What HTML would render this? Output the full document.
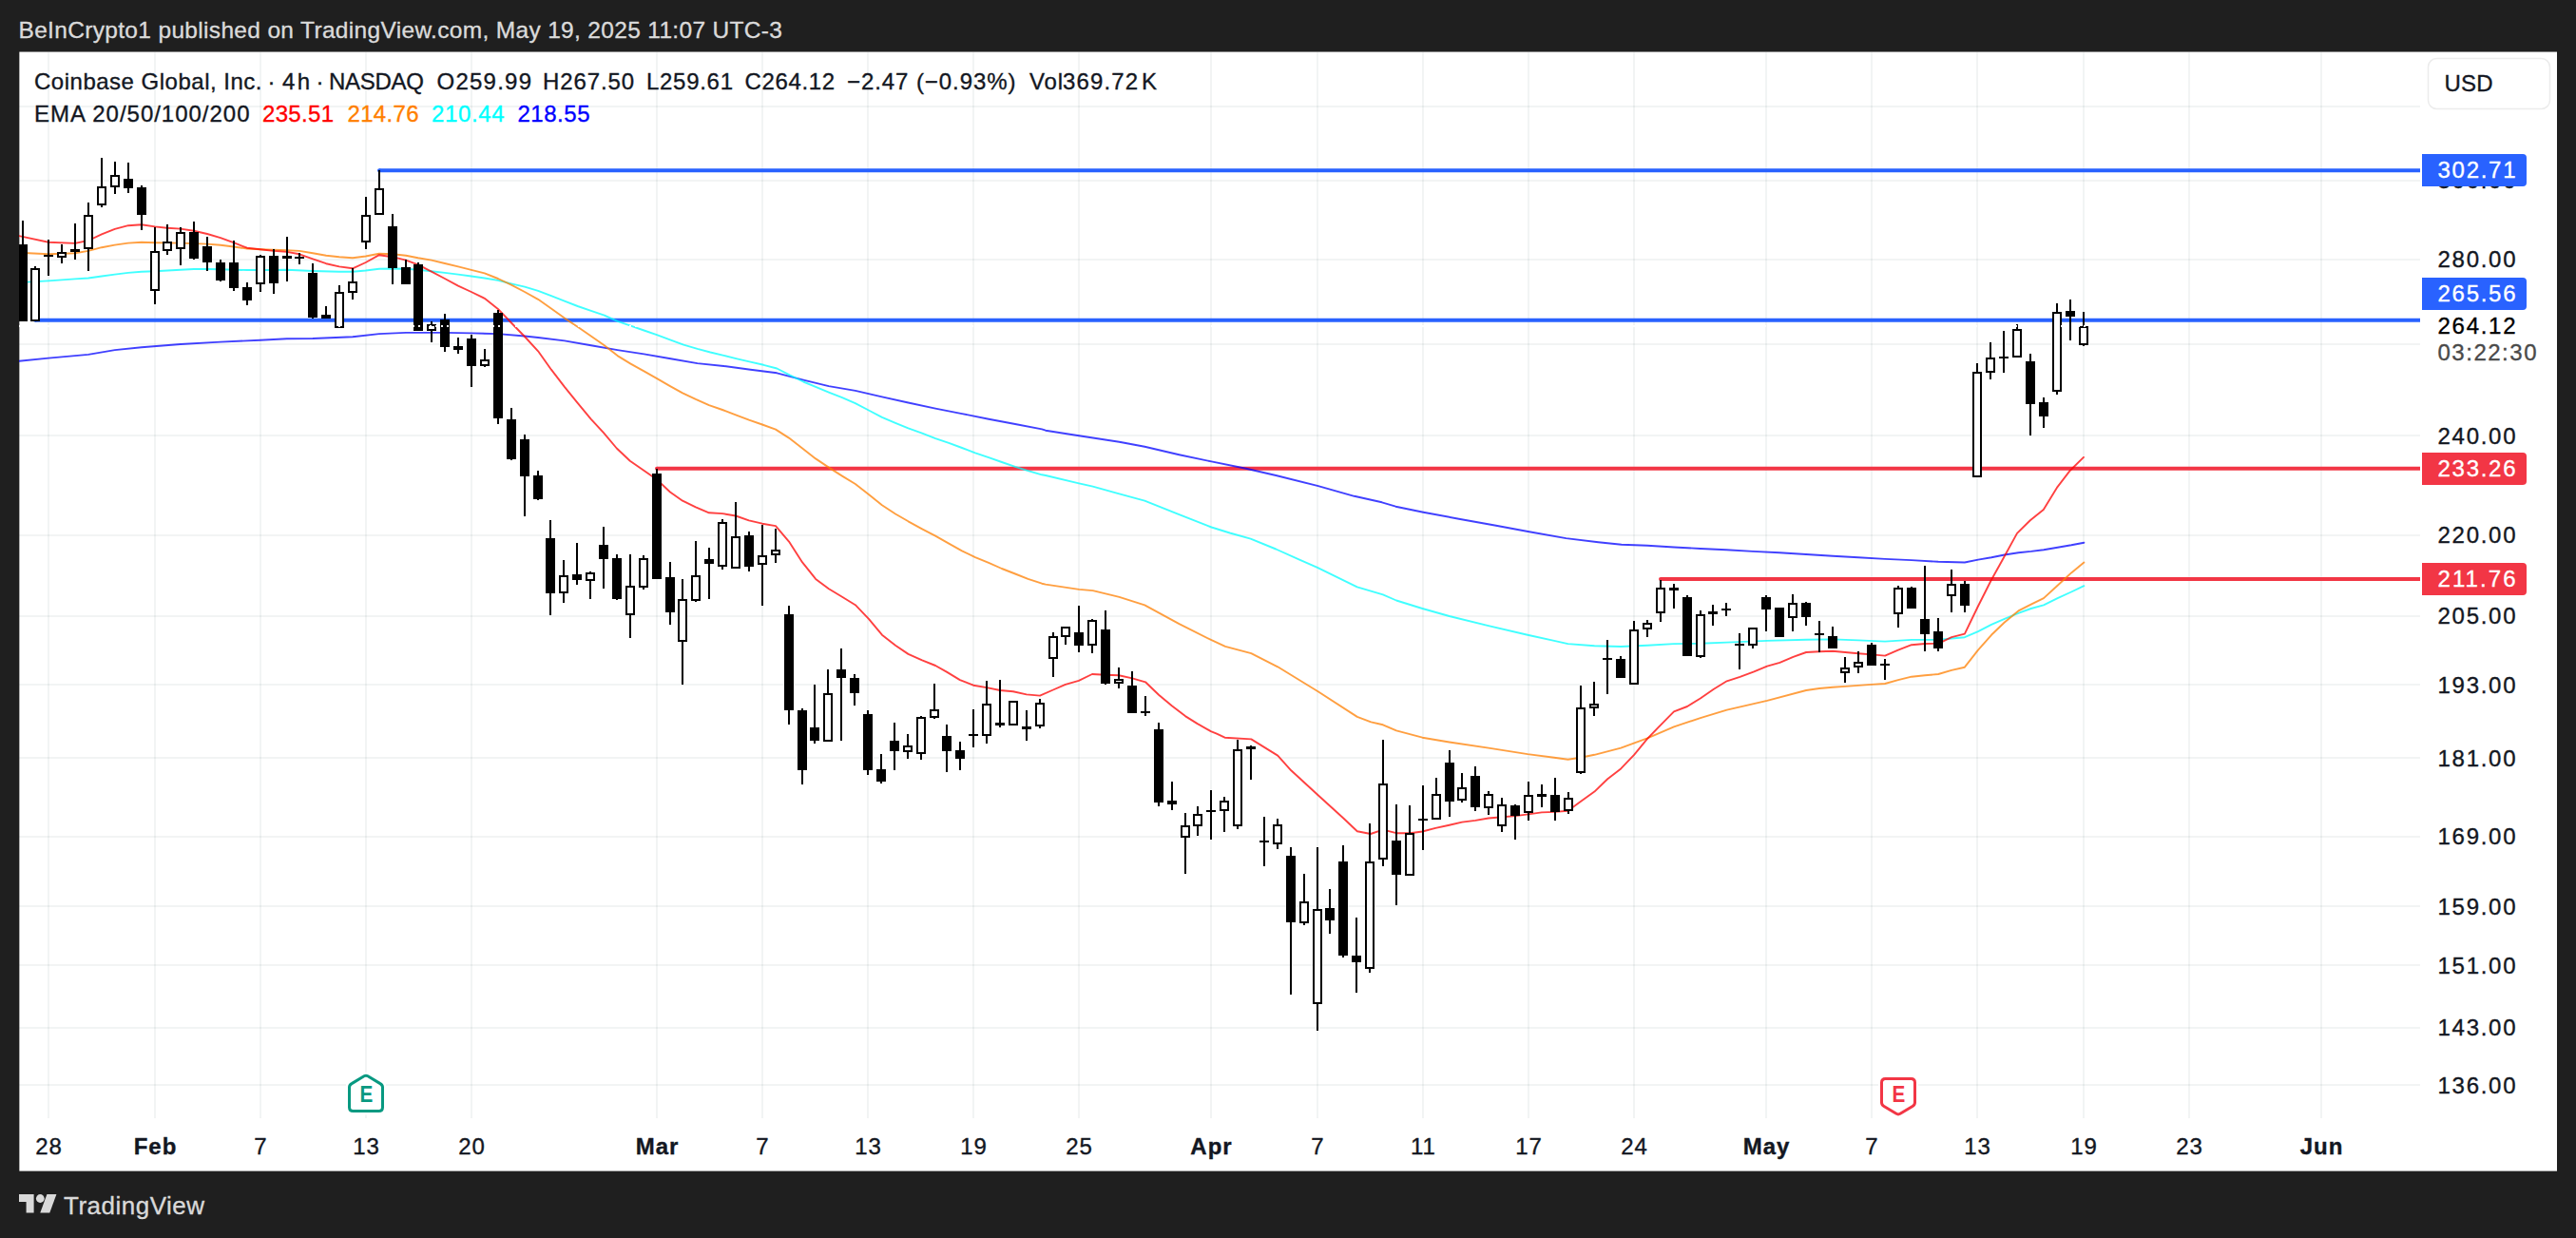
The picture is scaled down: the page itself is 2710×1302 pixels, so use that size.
<!DOCTYPE html>
<html><head><meta charset="utf-8"><title>COIN chart</title>
<style>html,body{margin:0;padding:0;background:#1f1f1f;}body{width:2710px;height:1302px;overflow:hidden;}svg{display:block;}</style>
</head><body>
<svg width="2710" height="1302" viewBox="0 0 2710 1302" font-family="'Liberation Sans', Arial, Helvetica, sans-serif">
<rect x="0" y="0" width="2710" height="1302" fill="#1f1f1f"/>
<rect x="20.35" y="54.55" width="2669.65" height="1177.05" fill="#ffffff"/>
<defs><clipPath id="pane"><rect x="20" y="55" width="2526" height="1121"/></clipPath></defs>
<g stroke="rgba(40,60,60,0.06)" stroke-width="2" shape-rendering="crispEdges">
<line x1="51" y1="55" x2="51" y2="1176"/>
<line x1="163" y1="55" x2="163" y2="1176"/>
<line x1="274" y1="55" x2="274" y2="1176"/>
<line x1="385" y1="55" x2="385" y2="1176"/>
<line x1="496" y1="55" x2="496" y2="1176"/>
<line x1="691" y1="55" x2="691" y2="1176"/>
<line x1="802" y1="55" x2="802" y2="1176"/>
<line x1="913" y1="55" x2="913" y2="1176"/>
<line x1="1024" y1="55" x2="1024" y2="1176"/>
<line x1="1135" y1="55" x2="1135" y2="1176"/>
<line x1="1274" y1="55" x2="1274" y2="1176"/>
<line x1="1386" y1="55" x2="1386" y2="1176"/>
<line x1="1497" y1="55" x2="1497" y2="1176"/>
<line x1="1608" y1="55" x2="1608" y2="1176"/>
<line x1="1719" y1="55" x2="1719" y2="1176"/>
<line x1="1858" y1="55" x2="1858" y2="1176"/>
<line x1="1969" y1="55" x2="1969" y2="1176"/>
<line x1="2080" y1="55" x2="2080" y2="1176"/>
<line x1="2192" y1="55" x2="2192" y2="1176"/>
<line x1="2303" y1="55" x2="2303" y2="1176"/>
<line x1="2442" y1="55" x2="2442" y2="1176"/>
<line x1="20" y1="112" x2="2546" y2="112"/>
<line x1="20" y1="190" x2="2546" y2="190"/>
<line x1="20" y1="273" x2="2546" y2="273"/>
<line x1="20" y1="362" x2="2546" y2="362"/>
<line x1="20" y1="458" x2="2546" y2="458"/>
<line x1="20" y1="563" x2="2546" y2="563"/>
<line x1="20" y1="648" x2="2546" y2="648"/>
<line x1="20" y1="720" x2="2546" y2="720"/>
<line x1="20" y1="797" x2="2546" y2="797"/>
<line x1="20" y1="880" x2="2546" y2="880"/>
<line x1="20" y1="953" x2="2546" y2="953"/>
<line x1="20" y1="1015" x2="2546" y2="1015"/>
<line x1="20" y1="1081" x2="2546" y2="1081"/>
<line x1="20" y1="1141" x2="2546" y2="1141"/>
</g>
<g clip-path="url(#pane)">
<line x1="399" y1="179.3" x2="2546" y2="179.3" stroke="#2962ff" stroke-width="4" stroke-linecap="butt"/>
<circle cx="399" cy="179.3" r="2" fill="#2962ff"/>
<line x1="37" y1="336.8" x2="2546" y2="336.8" stroke="#2962ff" stroke-width="4" stroke-linecap="butt"/>
<circle cx="37" cy="336.8" r="2" fill="#2962ff"/>
<line x1="691" y1="492.7" x2="2546" y2="492.7" stroke="#f23645" stroke-width="4" stroke-linecap="butt"/>
<circle cx="691" cy="492.7" r="2" fill="#f23645"/>
<line x1="1747" y1="609.0" x2="2546" y2="609.0" stroke="#f23645" stroke-width="4" stroke-linecap="butt"/>
<circle cx="1747" cy="609.0" r="2" fill="#f23645"/>
<polyline points="20.0,379.7 51.0,376.6 92.9,372.9 120.8,368.1 148.9,365.2 189.9,362.0 232.0,359.6 273.7,357.7 301.8,356.2 329.1,356.0 371.0,354.3 398.9,351.1 427.0,349.9 467.9,349.9 495.8,350.4 523.9,351.1 552.0,353.5 566.1,355.0 593.9,358.4 621.8,363.2 649.6,368.1 677.5,372.4 705.6,377.3 733.7,382.1 761.4,385.0 789.5,388.7 817.3,392.3 845.2,399.6 871.9,406.1 899.8,410.9 927.9,417.4 955.5,423.5 984.1,429.6 1012.0,435.1 1040.1,440.7 1068.0,446.0 1096.1,451.4 1100.0,452.7 1135.1,458.3 1177.5,464.8 1204.2,469.7 1240.5,478.2 1274.5,485.4 1310.8,492.7 1342.3,500.0 1385.9,510.9 1424.7,521.8 1453.8,528.3 1468.3,532.7 1497.4,538.7 1536.2,546.0 1572.5,552.5 1608.8,559.3 1647.6,566.1 1681.5,570.2 1705.8,572.7 1733.0,573.8 1761.1,575.5 1789.0,577.0 1816.1,578.2 1844.0,579.9 1872.1,581.3 1900.0,583.0 1928.1,584.7 1955.0,586.2 1983.1,587.9 2011.0,589.1 2039.1,590.8 2066.9,591.5 2081.0,588.6 2095.0,586.2 2108.8,583.5 2123.4,581.3 2136.7,579.9 2150.0,578.2 2164.6,575.7 2179.1,573.3 2192.4,570.7" fill="none" stroke="#0000ff" stroke-opacity="0.75" stroke-width="1.9" stroke-linejoin="round" stroke-linecap="round"/>
<polyline points="20.0,297.1 28.5,296.6 51.0,295.4 78.9,293.4 92.9,292.5 107.0,290.5 120.8,288.6 134.9,286.9 148.9,285.7 163.0,285.2 189.9,283.8 203.9,283.0 218.0,283.0 232.0,283.3 245.8,283.8 259.9,284.0 273.7,284.0 287.7,284.0 301.8,283.8 329.1,285.0 356.9,285.7 371.0,285.7 384.8,284.5 398.9,282.8 412.9,282.5 427.0,282.8 439.8,283.8 453.9,285.2 467.9,286.9 482.0,288.6 495.8,290.5 509.8,292.5 523.9,294.9 537.9,298.3 552.0,301.7 566.1,305.8 579.9,311.1 593.9,316.7 607.7,322.0 621.8,326.9 635.8,331.7 649.6,337.8 663.5,342.6 677.5,347.5 691.6,352.3 705.6,357.7 719.2,362.7 733.7,366.9 747.3,370.5 761.4,373.9 775.4,377.3 789.5,380.7 803.3,383.8 817.3,387.5 831.1,394.7 845.2,401.5 858.1,406.8 871.9,412.6 886.0,418.2 899.8,424.2 913.9,431.5 927.9,438.8 942.0,444.8 955.5,450.4 970.1,455.7 984.1,461.1 998.2,465.9 1012.0,471.0 1026.0,476.3 1040.1,481.2 1053.9,486.0 1068.0,490.9 1081.5,495.2 1096.1,499.3 1100.0,500.0 1135.1,508.4 1149.7,511.6 1177.5,519.3 1204.2,526.6 1240.5,541.2 1274.5,554.5 1293.8,560.5 1315.7,566.6 1342.3,577.5 1366.5,588.4 1385.9,596.9 1427.8,617.4 1454.9,625.4 1469.0,631.5 1496.4,640.0 1524.7,648.0 1565.9,658.2 1607.1,667.8 1635.0,673.9 1649.5,677.1 1677.4,679.2 1705.2,680.0 1733.1,678.7 1761.0,677.1 1788.8,676.8 1816.7,675.6 1859.1,673.9 1900.1,672.7 1928.1,672.4 1955.0,673.4 1983.1,674.6 2011.0,672.9 2039.1,672.9 2053.1,671.5 2066.9,670.2 2081.0,664.2 2095.0,656.9 2108.8,650.9 2123.4,644.8 2136.7,640.0 2150.0,636.3 2164.6,629.1 2179.1,622.5 2192.4,616.2" fill="none" stroke="#00ffff" stroke-opacity="0.75" stroke-width="1.9" stroke-linejoin="round" stroke-linecap="round"/>
<polyline points="20.0,265.8 51.0,267.3 78.9,266.3 92.9,263.9 107.0,260.2 120.8,257.6 134.9,255.6 148.9,254.7 163.0,255.2 189.9,255.6 203.9,256.1 218.0,256.6 232.0,257.8 245.8,259.5 259.9,261.5 273.7,262.2 287.7,262.7 301.8,263.2 315.0,263.9 329.1,266.3 343.1,268.7 356.9,270.2 371.0,271.2 384.8,269.5 398.9,266.8 412.9,267.3 427.0,268.7 439.8,271.2 453.9,273.6 467.9,277.0 482.0,280.4 495.8,283.8 509.8,287.4 523.9,293.0 537.9,299.7 552.0,307.0 566.1,314.8 579.9,324.5 593.9,334.6 607.7,343.8 621.8,353.5 635.8,363.2 649.6,374.1 663.5,382.6 677.5,390.4 691.6,398.4 705.0,406.1 718.1,413.3 731.9,419.9 745.9,426.2 760.0,431.0 774.0,436.3 787.9,441.7 801.9,446.5 816.0,451.6 830.0,460.6 844.1,471.5 858.1,482.4 871.9,491.6 886.0,500.6 899.8,509.0 913.9,519.9 927.9,531.3 942.0,540.5 955.5,548.3 970.1,556.3 984.1,563.6 998.2,571.6 1012.0,579.3 1026.0,586.1 1040.1,591.9 1053.9,598.0 1068.0,603.5 1081.5,608.9 1096.1,613.7 1100.0,614.6 1135.1,619.9 1149.7,621.1 1177.5,627.9 1204.2,636.4 1240.5,656.2 1274.5,673.2 1289.0,679.8 1316.3,687.2 1344.2,701.3 1386.6,727.2 1427.8,753.9 1442.3,759.4 1454.9,762.3 1469.0,768.4 1496.4,775.7 1524.7,780.5 1565.9,786.6 1607.1,793.1 1635.0,796.8 1649.5,798.7 1662.8,796.8 1677.4,793.8 1705.2,786.6 1733.1,776.4 1761.0,764.3 1788.8,755.1 1816.7,746.6 1859.1,736.9 1900.1,726.0 1914.0,724.0 1928.1,722.8 1941.2,721.9 1955.0,720.9 1969.0,719.9 1983.1,719.0 1996.9,715.1 2011.0,711.7 2025.0,710.2 2039.1,709.0 2053.1,704.9 2066.9,701.7 2081.0,683.6 2095.0,667.8 2108.8,654.5 2123.4,642.4 2136.7,635.6 2150.0,629.1 2164.6,615.7 2179.1,602.4 2192.4,591.5" fill="none" stroke="#ff7f00" stroke-opacity="0.75" stroke-width="1.9" stroke-linejoin="round" stroke-linecap="round"/>
<polyline points="20.0,248.1 51.0,254.7 78.9,255.9 92.9,253.0 107.0,246.4 120.8,240.9 134.9,237.2 148.9,236.3 163.0,238.4 175.8,239.7 189.9,240.6 203.9,242.8 218.0,246.0 232.0,250.1 245.8,255.2 259.9,260.7 273.7,262.2 287.7,263.9 301.8,264.9 315.0,267.3 329.1,272.4 343.1,277.2 356.9,280.4 371.0,282.3 384.8,276.0 398.9,268.2 412.9,270.2 427.0,273.6 439.8,278.4 453.9,285.7 467.9,293.0 482.0,300.7 495.8,307.0 509.8,313.8 523.9,324.9 537.9,339.5 552.0,354.0 566.1,369.3 579.9,388.7 593.9,406.8 607.7,423.8 621.8,440.8 635.0,455.2 648.8,471.5 662.8,484.8 676.9,494.5 690.9,504.2 705.0,517.5 718.1,526.7 731.9,533.3 745.9,539.3 760.0,540.1 774.0,542.5 787.9,547.3 801.9,550.7 816.0,553.1 830.0,569.6 844.1,591.4 858.1,608.9 871.9,619.3 886.0,627.8 899.8,636.2 913.9,650.8 927.9,667.7 942.0,678.7 955.5,687.9 970.1,694.4 984.1,700.0 995.9,706.6 1009.9,715.1 1024.0,720.7 1038.0,723.1 1052.1,726.0 1065.9,727.2 1079.9,730.4 1094.0,731.6 1108.0,725.5 1120.9,719.9 1134.9,715.8 1149.0,709.0 1163.0,709.8 1177.1,710.2 1191.2,713.4 1205.0,717.3 1219.0,730.8 1233.1,742.5 1246.9,753.1 1259.7,761.1 1273.8,769.1 1280.0,771.6 1288.5,775.7 1316.3,777.4 1344.2,794.6 1358.3,810.3 1386.6,836.2 1413.3,860.5 1427.8,874.3 1441.9,877.0 1454.9,872.6 1469.0,876.2 1483.5,876.2 1496.4,874.5 1510.2,870.9 1524.7,867.7 1538.1,864.6 1552.1,862.9 1565.9,860.5 1580.5,859.3 1594.0,858.1 1607.8,856.4 1621.9,854.4 1635.9,853.9 1649.5,852.7 1662.8,843.0 1677.4,832.6 1691.2,819.3 1705.2,808.4 1719.1,793.8 1733.1,776.9 1747.2,762.3 1761.0,748.3 1775.0,743.0 1788.8,734.5 1802.9,724.8 1816.7,716.3 1830.5,711.9 1844.6,706.6 1859.1,700.6 1872.4,696.9 1886.5,690.9 1900.1,686.0 1914.0,685.3 1928.1,684.8 1941.2,686.0 1955.0,687.2 1969.0,688.4 1983.1,689.6 1996.9,683.6 2011.0,678.2 2025.0,677.0 2039.1,676.8 2053.1,670.2 2066.9,666.6 2081.0,637.5 2095.0,609.7 2106.0,590.0 2122.0,560.9 2135.8,547.3 2149.8,535.9 2163.9,512.9 2177.9,494.7 2192.0,480.9" fill="none" stroke="#ff0000" stroke-opacity="0.75" stroke-width="1.9" stroke-linejoin="round" stroke-linecap="round"/>
<g shape-rendering="crispEdges">
<rect x="23" y="232" width="2" height="106" fill="#000"/>
<rect x="19" y="257" width="10" height="81" fill="#000"/>
<rect x="36" y="280" width="2" height="58" fill="#000"/>
<rect x="32" y="282" width="10" height="56" fill="#000"/>
<rect x="34" y="284" width="6" height="52" fill="#fff"/>
<rect x="50" y="252" width="2" height="38" fill="#000"/>
<rect x="46" y="268" width="10" height="2" fill="#000"/>
<rect x="64" y="257" width="2" height="20" fill="#000"/>
<rect x="60" y="265" width="10" height="6" fill="#000"/>
<rect x="62" y="267" width="6" height="2" fill="#fff"/>
<rect x="78" y="235" width="2" height="38" fill="#000"/>
<rect x="74" y="262" width="10" height="3" fill="#000"/>
<rect x="92" y="213" width="2" height="72" fill="#000"/>
<rect x="88" y="226" width="10" height="36" fill="#000"/>
<rect x="90" y="228" width="6" height="32" fill="#fff"/>
<rect x="106" y="166" width="2" height="52" fill="#000"/>
<rect x="102" y="196" width="10" height="20" fill="#000"/>
<rect x="104" y="198" width="6" height="16" fill="#fff"/>
<rect x="120" y="170" width="2" height="34" fill="#000"/>
<rect x="116" y="184" width="10" height="13" fill="#000"/>
<rect x="118" y="186" width="6" height="9" fill="#fff"/>
<rect x="134" y="171" width="2" height="32" fill="#000"/>
<rect x="130" y="188" width="10" height="10" fill="#000"/>
<rect x="148" y="195" width="2" height="47" fill="#000"/>
<rect x="144" y="197" width="10" height="29" fill="#000"/>
<rect x="162" y="239" width="2" height="81" fill="#000"/>
<rect x="158" y="264" width="10" height="42" fill="#000"/>
<rect x="160" y="266" width="6" height="38" fill="#fff"/>
<rect x="175" y="236" width="2" height="32" fill="#000"/>
<rect x="171" y="254" width="10" height="10" fill="#000"/>
<rect x="173" y="256" width="6" height="6" fill="#fff"/>
<rect x="189" y="239" width="2" height="40" fill="#000"/>
<rect x="185" y="244" width="10" height="18" fill="#000"/>
<rect x="187" y="246" width="6" height="14" fill="#fff"/>
<rect x="203" y="233" width="2" height="40" fill="#000"/>
<rect x="199" y="244" width="10" height="28" fill="#000"/>
<rect x="217" y="249" width="2" height="36" fill="#000"/>
<rect x="213" y="259" width="10" height="17" fill="#000"/>
<rect x="231" y="273" width="2" height="23" fill="#000"/>
<rect x="227" y="276" width="10" height="19" fill="#000"/>
<rect x="245" y="253" width="2" height="53" fill="#000"/>
<rect x="241" y="276" width="10" height="27" fill="#000"/>
<rect x="259" y="297" width="2" height="24" fill="#000"/>
<rect x="255" y="302" width="10" height="14" fill="#000"/>
<rect x="273" y="268" width="2" height="39" fill="#000"/>
<rect x="269" y="269" width="10" height="30" fill="#000"/>
<rect x="271" y="271" width="6" height="26" fill="#fff"/>
<rect x="287" y="262" width="2" height="47" fill="#000"/>
<rect x="283" y="269" width="10" height="29" fill="#000"/>
<rect x="301" y="249" width="2" height="47" fill="#000"/>
<rect x="297" y="269" width="10" height="3" fill="#000"/>
<rect x="314" y="266" width="2" height="12" fill="#000"/>
<rect x="310" y="270" width="10" height="2" fill="#000"/>
<rect x="328" y="277" width="2" height="58" fill="#000"/>
<rect x="324" y="287" width="10" height="47" fill="#000"/>
<rect x="342" y="322" width="2" height="13" fill="#000"/>
<rect x="338" y="331" width="10" height="4" fill="#000"/>
<rect x="356" y="300" width="2" height="45" fill="#000"/>
<rect x="352" y="307" width="10" height="38" fill="#000"/>
<rect x="354" y="309" width="6" height="34" fill="#fff"/>
<rect x="370" y="282" width="2" height="33" fill="#000"/>
<rect x="366" y="296" width="10" height="12" fill="#000"/>
<rect x="368" y="298" width="6" height="8" fill="#fff"/>
<rect x="384" y="207" width="2" height="55" fill="#000"/>
<rect x="380" y="226" width="10" height="29" fill="#000"/>
<rect x="382" y="228" width="6" height="25" fill="#fff"/>
<rect x="398" y="179" width="2" height="47" fill="#000"/>
<rect x="394" y="198" width="10" height="28" fill="#000"/>
<rect x="396" y="200" width="6" height="24" fill="#fff"/>
<rect x="412" y="225" width="2" height="74" fill="#000"/>
<rect x="408" y="238" width="10" height="44" fill="#000"/>
<rect x="426" y="273" width="2" height="26" fill="#000"/>
<rect x="422" y="281" width="10" height="18" fill="#000"/>
<rect x="439" y="276" width="2" height="72" fill="#000"/>
<rect x="435" y="278" width="10" height="70" fill="#000"/>
<rect x="453" y="338" width="2" height="22" fill="#000"/>
<rect x="449" y="341" width="10" height="7" fill="#000"/>
<rect x="451" y="343" width="6" height="3" fill="#fff"/>
<rect x="467" y="330" width="2" height="40" fill="#000"/>
<rect x="463" y="336" width="10" height="29" fill="#000"/>
<rect x="481" y="355" width="2" height="17" fill="#000"/>
<rect x="477" y="364" width="10" height="4" fill="#000"/>
<rect x="495" y="352" width="2" height="55" fill="#000"/>
<rect x="491" y="356" width="10" height="29" fill="#000"/>
<rect x="509" y="367" width="2" height="19" fill="#000"/>
<rect x="505" y="378" width="10" height="7" fill="#000"/>
<rect x="507" y="380" width="6" height="3" fill="#fff"/>
<rect x="523" y="326" width="2" height="120" fill="#000"/>
<rect x="519" y="329" width="10" height="111" fill="#000"/>
<rect x="537" y="429" width="2" height="55" fill="#000"/>
<rect x="533" y="441" width="10" height="42" fill="#000"/>
<rect x="551" y="457" width="2" height="86" fill="#000"/>
<rect x="547" y="462" width="10" height="39" fill="#000"/>
<rect x="565" y="495" width="2" height="31" fill="#000"/>
<rect x="561" y="500" width="10" height="25" fill="#000"/>
<rect x="578" y="547" width="2" height="100" fill="#000"/>
<rect x="574" y="566" width="10" height="58" fill="#000"/>
<rect x="592" y="589" width="2" height="45" fill="#000"/>
<rect x="588" y="605" width="10" height="19" fill="#000"/>
<rect x="590" y="607" width="6" height="15" fill="#fff"/>
<rect x="606" y="571" width="2" height="44" fill="#000"/>
<rect x="602" y="604" width="10" height="6" fill="#000"/>
<rect x="620" y="601" width="2" height="29" fill="#000"/>
<rect x="616" y="602" width="10" height="9" fill="#000"/>
<rect x="618" y="604" width="6" height="5" fill="#fff"/>
<rect x="634" y="554" width="2" height="65" fill="#000"/>
<rect x="630" y="573" width="10" height="15" fill="#000"/>
<rect x="648" y="583" width="2" height="48" fill="#000"/>
<rect x="644" y="587" width="10" height="43" fill="#000"/>
<rect x="662" y="583" width="2" height="88" fill="#000"/>
<rect x="658" y="616" width="10" height="31" fill="#000"/>
<rect x="660" y="618" width="6" height="27" fill="#fff"/>
<rect x="676" y="584" width="2" height="36" fill="#000"/>
<rect x="672" y="587" width="10" height="31" fill="#000"/>
<rect x="674" y="589" width="6" height="27" fill="#fff"/>
<rect x="690" y="493" width="2" height="116" fill="#000"/>
<rect x="686" y="498" width="10" height="111" fill="#000"/>
<rect x="704" y="591" width="2" height="66" fill="#000"/>
<rect x="700" y="607" width="10" height="37" fill="#000"/>
<rect x="717" y="609" width="2" height="111" fill="#000"/>
<rect x="713" y="630" width="10" height="45" fill="#000"/>
<rect x="715" y="632" width="6" height="41" fill="#fff"/>
<rect x="731" y="569" width="2" height="64" fill="#000"/>
<rect x="727" y="605" width="10" height="27" fill="#000"/>
<rect x="729" y="607" width="6" height="23" fill="#fff"/>
<rect x="745" y="576" width="2" height="54" fill="#000"/>
<rect x="741" y="588" width="10" height="5" fill="#000"/>
<rect x="759" y="546" width="2" height="53" fill="#000"/>
<rect x="755" y="549" width="10" height="47" fill="#000"/>
<rect x="757" y="551" width="6" height="43" fill="#fff"/>
<rect x="773" y="528" width="2" height="70" fill="#000"/>
<rect x="769" y="564" width="10" height="34" fill="#000"/>
<rect x="771" y="566" width="6" height="30" fill="#fff"/>
<rect x="787" y="559" width="2" height="42" fill="#000"/>
<rect x="783" y="563" width="10" height="33" fill="#000"/>
<rect x="801" y="552" width="2" height="85" fill="#000"/>
<rect x="797" y="584" width="10" height="10" fill="#000"/>
<rect x="799" y="586" width="6" height="6" fill="#fff"/>
<rect x="815" y="556" width="2" height="36" fill="#000"/>
<rect x="811" y="578" width="10" height="6" fill="#000"/>
<rect x="813" y="580" width="6" height="2" fill="#fff"/>
<rect x="829" y="637" width="2" height="125" fill="#000"/>
<rect x="825" y="646" width="10" height="101" fill="#000"/>
<rect x="843" y="745" width="2" height="80" fill="#000"/>
<rect x="839" y="747" width="10" height="63" fill="#000"/>
<rect x="856" y="720" width="2" height="62" fill="#000"/>
<rect x="852" y="765" width="10" height="14" fill="#000"/>
<rect x="870" y="704" width="2" height="76" fill="#000"/>
<rect x="866" y="729" width="10" height="51" fill="#000"/>
<rect x="868" y="731" width="6" height="47" fill="#fff"/>
<rect x="884" y="682" width="2" height="97" fill="#000"/>
<rect x="880" y="704" width="10" height="9" fill="#000"/>
<rect x="898" y="709" width="2" height="33" fill="#000"/>
<rect x="894" y="713" width="10" height="16" fill="#000"/>
<rect x="912" y="747" width="2" height="68" fill="#000"/>
<rect x="908" y="751" width="10" height="59" fill="#000"/>
<rect x="926" y="793" width="2" height="31" fill="#000"/>
<rect x="922" y="809" width="10" height="13" fill="#000"/>
<rect x="940" y="760" width="2" height="50" fill="#000"/>
<rect x="936" y="779" width="10" height="11" fill="#000"/>
<rect x="954" y="772" width="2" height="26" fill="#000"/>
<rect x="950" y="784" width="10" height="7" fill="#000"/>
<rect x="952" y="786" width="6" height="3" fill="#fff"/>
<rect x="968" y="753" width="2" height="46" fill="#000"/>
<rect x="964" y="754" width="10" height="39" fill="#000"/>
<rect x="966" y="756" width="6" height="35" fill="#fff"/>
<rect x="982" y="719" width="2" height="37" fill="#000"/>
<rect x="978" y="746" width="10" height="9" fill="#000"/>
<rect x="980" y="748" width="6" height="5" fill="#fff"/>
<rect x="995" y="762" width="2" height="50" fill="#000"/>
<rect x="991" y="774" width="10" height="16" fill="#000"/>
<rect x="1009" y="780" width="2" height="30" fill="#000"/>
<rect x="1005" y="789" width="10" height="9" fill="#000"/>
<rect x="1023" y="746" width="2" height="40" fill="#000"/>
<rect x="1019" y="772" width="10" height="2" fill="#000"/>
<rect x="1037" y="716" width="2" height="66" fill="#000"/>
<rect x="1033" y="740" width="10" height="34" fill="#000"/>
<rect x="1035" y="742" width="6" height="30" fill="#fff"/>
<rect x="1051" y="715" width="2" height="50" fill="#000"/>
<rect x="1047" y="760" width="10" height="3" fill="#000"/>
<rect x="1065" y="737" width="2" height="26" fill="#000"/>
<rect x="1061" y="737" width="10" height="26" fill="#000"/>
<rect x="1063" y="739" width="6" height="22" fill="#fff"/>
<rect x="1079" y="747" width="2" height="32" fill="#000"/>
<rect x="1075" y="764" width="10" height="3" fill="#000"/>
<rect x="1093" y="735" width="2" height="31" fill="#000"/>
<rect x="1089" y="739" width="10" height="25" fill="#000"/>
<rect x="1091" y="741" width="6" height="21" fill="#fff"/>
<rect x="1107" y="665" width="2" height="47" fill="#000"/>
<rect x="1103" y="669" width="10" height="24" fill="#000"/>
<rect x="1105" y="671" width="6" height="20" fill="#fff"/>
<rect x="1120" y="659" width="2" height="19" fill="#000"/>
<rect x="1116" y="659" width="10" height="11" fill="#000"/>
<rect x="1118" y="661" width="6" height="7" fill="#fff"/>
<rect x="1134" y="637" width="2" height="49" fill="#000"/>
<rect x="1130" y="665" width="10" height="14" fill="#000"/>
<rect x="1148" y="651" width="2" height="36" fill="#000"/>
<rect x="1144" y="652" width="10" height="27" fill="#000"/>
<rect x="1146" y="654" width="6" height="23" fill="#fff"/>
<rect x="1162" y="642" width="2" height="78" fill="#000"/>
<rect x="1158" y="662" width="10" height="57" fill="#000"/>
<rect x="1176" y="702" width="2" height="22" fill="#000"/>
<rect x="1172" y="714" width="10" height="5" fill="#000"/>
<rect x="1174" y="716" width="6" height="1" fill="#fff"/>
<rect x="1190" y="706" width="2" height="44" fill="#000"/>
<rect x="1186" y="721" width="10" height="29" fill="#000"/>
<rect x="1204" y="732" width="2" height="21" fill="#000"/>
<rect x="1200" y="748" width="10" height="2" fill="#000"/>
<rect x="1218" y="760" width="2" height="88" fill="#000"/>
<rect x="1214" y="767" width="10" height="77" fill="#000"/>
<rect x="1232" y="822" width="2" height="30" fill="#000"/>
<rect x="1228" y="842" width="10" height="4" fill="#000"/>
<rect x="1246" y="855" width="2" height="64" fill="#000"/>
<rect x="1242" y="868" width="10" height="13" fill="#000"/>
<rect x="1244" y="870" width="6" height="9" fill="#fff"/>
<rect x="1259" y="848" width="2" height="31" fill="#000"/>
<rect x="1255" y="856" width="10" height="13" fill="#000"/>
<rect x="1257" y="858" width="6" height="9" fill="#fff"/>
<rect x="1273" y="831" width="2" height="52" fill="#000"/>
<rect x="1269" y="852" width="10" height="2" fill="#000"/>
<rect x="1287" y="838" width="2" height="37" fill="#000"/>
<rect x="1283" y="842" width="10" height="11" fill="#000"/>
<rect x="1285" y="844" width="6" height="7" fill="#fff"/>
<rect x="1301" y="778" width="2" height="94" fill="#000"/>
<rect x="1297" y="788" width="10" height="81" fill="#000"/>
<rect x="1299" y="790" width="6" height="77" fill="#fff"/>
<rect x="1315" y="784" width="2" height="36" fill="#000"/>
<rect x="1311" y="785" width="10" height="3" fill="#000"/>
<rect x="1329" y="859" width="2" height="52" fill="#000"/>
<rect x="1325" y="884" width="10" height="2" fill="#000"/>
<rect x="1343" y="861" width="2" height="32" fill="#000"/>
<rect x="1339" y="867" width="10" height="21" fill="#000"/>
<rect x="1341" y="869" width="6" height="17" fill="#fff"/>
<rect x="1357" y="891" width="2" height="155" fill="#000"/>
<rect x="1353" y="900" width="10" height="70" fill="#000"/>
<rect x="1371" y="919" width="2" height="54" fill="#000"/>
<rect x="1367" y="948" width="10" height="23" fill="#000"/>
<rect x="1369" y="950" width="6" height="19" fill="#fff"/>
<rect x="1385" y="891" width="2" height="193" fill="#000"/>
<rect x="1381" y="956" width="10" height="100" fill="#000"/>
<rect x="1383" y="958" width="6" height="96" fill="#fff"/>
<rect x="1398" y="935" width="2" height="47" fill="#000"/>
<rect x="1394" y="955" width="10" height="13" fill="#000"/>
<rect x="1412" y="889" width="2" height="118" fill="#000"/>
<rect x="1408" y="906" width="10" height="99" fill="#000"/>
<rect x="1426" y="965" width="2" height="79" fill="#000"/>
<rect x="1422" y="1005" width="10" height="7" fill="#000"/>
<rect x="1440" y="866" width="2" height="157" fill="#000"/>
<rect x="1436" y="906" width="10" height="113" fill="#000"/>
<rect x="1438" y="908" width="6" height="109" fill="#fff"/>
<rect x="1454" y="778" width="2" height="133" fill="#000"/>
<rect x="1450" y="824" width="10" height="80" fill="#000"/>
<rect x="1452" y="826" width="6" height="76" fill="#fff"/>
<rect x="1468" y="846" width="2" height="106" fill="#000"/>
<rect x="1464" y="884" width="10" height="36" fill="#000"/>
<rect x="1482" y="847" width="2" height="74" fill="#000"/>
<rect x="1478" y="876" width="10" height="45" fill="#000"/>
<rect x="1480" y="878" width="6" height="41" fill="#fff"/>
<rect x="1496" y="826" width="2" height="68" fill="#000"/>
<rect x="1492" y="861" width="10" height="2" fill="#000"/>
<rect x="1510" y="818" width="2" height="44" fill="#000"/>
<rect x="1506" y="835" width="10" height="27" fill="#000"/>
<rect x="1508" y="837" width="6" height="23" fill="#fff"/>
<rect x="1524" y="789" width="2" height="70" fill="#000"/>
<rect x="1520" y="802" width="10" height="41" fill="#000"/>
<rect x="1537" y="813" width="2" height="31" fill="#000"/>
<rect x="1533" y="828" width="10" height="14" fill="#000"/>
<rect x="1535" y="830" width="6" height="10" fill="#fff"/>
<rect x="1551" y="806" width="2" height="47" fill="#000"/>
<rect x="1547" y="816" width="10" height="33" fill="#000"/>
<rect x="1565" y="832" width="2" height="25" fill="#000"/>
<rect x="1561" y="835" width="10" height="15" fill="#000"/>
<rect x="1563" y="837" width="6" height="11" fill="#fff"/>
<rect x="1579" y="839" width="2" height="36" fill="#000"/>
<rect x="1575" y="846" width="10" height="23" fill="#000"/>
<rect x="1577" y="848" width="6" height="19" fill="#fff"/>
<rect x="1593" y="846" width="2" height="37" fill="#000"/>
<rect x="1589" y="847" width="10" height="11" fill="#000"/>
<rect x="1607" y="822" width="2" height="41" fill="#000"/>
<rect x="1603" y="836" width="10" height="19" fill="#000"/>
<rect x="1605" y="838" width="6" height="15" fill="#fff"/>
<rect x="1621" y="825" width="2" height="24" fill="#000"/>
<rect x="1617" y="835" width="10" height="3" fill="#000"/>
<rect x="1635" y="818" width="2" height="45" fill="#000"/>
<rect x="1631" y="836" width="10" height="18" fill="#000"/>
<rect x="1649" y="833" width="2" height="23" fill="#000"/>
<rect x="1645" y="839" width="10" height="14" fill="#000"/>
<rect x="1647" y="841" width="6" height="10" fill="#fff"/>
<rect x="1662" y="721" width="2" height="93" fill="#000"/>
<rect x="1658" y="744" width="10" height="69" fill="#000"/>
<rect x="1660" y="746" width="6" height="65" fill="#fff"/>
<rect x="1676" y="717" width="2" height="36" fill="#000"/>
<rect x="1672" y="740" width="10" height="5" fill="#000"/>
<rect x="1674" y="742" width="6" height="1" fill="#fff"/>
<rect x="1690" y="673" width="2" height="57" fill="#000"/>
<rect x="1686" y="692" width="10" height="2" fill="#000"/>
<rect x="1704" y="690" width="2" height="23" fill="#000"/>
<rect x="1700" y="693" width="10" height="20" fill="#000"/>
<rect x="1718" y="653" width="2" height="67" fill="#000"/>
<rect x="1714" y="662" width="10" height="58" fill="#000"/>
<rect x="1716" y="664" width="6" height="54" fill="#fff"/>
<rect x="1732" y="652" width="2" height="18" fill="#000"/>
<rect x="1728" y="655" width="10" height="7" fill="#000"/>
<rect x="1730" y="657" width="6" height="3" fill="#fff"/>
<rect x="1746" y="610" width="2" height="44" fill="#000"/>
<rect x="1742" y="618" width="10" height="27" fill="#000"/>
<rect x="1744" y="620" width="6" height="23" fill="#fff"/>
<rect x="1760" y="614" width="2" height="26" fill="#000"/>
<rect x="1756" y="618" width="10" height="3" fill="#000"/>
<rect x="1774" y="626" width="2" height="64" fill="#000"/>
<rect x="1770" y="628" width="10" height="62" fill="#000"/>
<rect x="1788" y="642" width="2" height="50" fill="#000"/>
<rect x="1784" y="646" width="10" height="45" fill="#000"/>
<rect x="1786" y="648" width="6" height="41" fill="#fff"/>
<rect x="1801" y="636" width="2" height="22" fill="#000"/>
<rect x="1797" y="643" width="10" height="3" fill="#000"/>
<rect x="1815" y="634" width="2" height="14" fill="#000"/>
<rect x="1811" y="640" width="10" height="2" fill="#000"/>
<rect x="1829" y="666" width="2" height="38" fill="#000"/>
<rect x="1825" y="677" width="10" height="2" fill="#000"/>
<rect x="1843" y="660" width="2" height="22" fill="#000"/>
<rect x="1839" y="660" width="10" height="19" fill="#000"/>
<rect x="1841" y="662" width="6" height="15" fill="#fff"/>
<rect x="1857" y="626" width="2" height="38" fill="#000"/>
<rect x="1853" y="628" width="10" height="13" fill="#000"/>
<rect x="1871" y="639" width="2" height="31" fill="#000"/>
<rect x="1867" y="639" width="10" height="31" fill="#000"/>
<rect x="1885" y="625" width="2" height="39" fill="#000"/>
<rect x="1881" y="634" width="10" height="16" fill="#000"/>
<rect x="1883" y="636" width="6" height="12" fill="#fff"/>
<rect x="1899" y="633" width="2" height="25" fill="#000"/>
<rect x="1895" y="634" width="10" height="15" fill="#000"/>
<rect x="1913" y="653" width="2" height="33" fill="#000"/>
<rect x="1909" y="666" width="10" height="2" fill="#000"/>
<rect x="1927" y="659" width="2" height="23" fill="#000"/>
<rect x="1923" y="669" width="10" height="13" fill="#000"/>
<rect x="1940" y="691" width="2" height="27" fill="#000"/>
<rect x="1936" y="702" width="10" height="6" fill="#000"/>
<rect x="1938" y="704" width="6" height="2" fill="#fff"/>
<rect x="1954" y="685" width="2" height="23" fill="#000"/>
<rect x="1950" y="696" width="10" height="6" fill="#000"/>
<rect x="1952" y="698" width="6" height="2" fill="#fff"/>
<rect x="1968" y="676" width="2" height="24" fill="#000"/>
<rect x="1964" y="678" width="10" height="22" fill="#000"/>
<rect x="1982" y="693" width="2" height="22" fill="#000"/>
<rect x="1978" y="698" width="10" height="2" fill="#000"/>
<rect x="1996" y="616" width="2" height="44" fill="#000"/>
<rect x="1992" y="618" width="10" height="28" fill="#000"/>
<rect x="1994" y="620" width="6" height="24" fill="#fff"/>
<rect x="2010" y="617" width="2" height="23" fill="#000"/>
<rect x="2006" y="618" width="10" height="22" fill="#000"/>
<rect x="2024" y="595" width="2" height="90" fill="#000"/>
<rect x="2020" y="651" width="10" height="16" fill="#000"/>
<rect x="2038" y="650" width="2" height="35" fill="#000"/>
<rect x="2034" y="664" width="10" height="18" fill="#000"/>
<rect x="2052" y="599" width="2" height="45" fill="#000"/>
<rect x="2048" y="614" width="10" height="13" fill="#000"/>
<rect x="2050" y="616" width="6" height="9" fill="#fff"/>
<rect x="2066" y="611" width="2" height="33" fill="#000"/>
<rect x="2062" y="614" width="10" height="23" fill="#000"/>
<rect x="2079" y="382" width="2" height="120" fill="#000"/>
<rect x="2075" y="391" width="10" height="111" fill="#000"/>
<rect x="2077" y="393" width="6" height="107" fill="#fff"/>
<rect x="2093" y="360" width="2" height="39" fill="#000"/>
<rect x="2089" y="376" width="10" height="16" fill="#000"/>
<rect x="2091" y="378" width="6" height="12" fill="#fff"/>
<rect x="2107" y="348" width="2" height="44" fill="#000"/>
<rect x="2103" y="375" width="10" height="2" fill="#000"/>
<rect x="2121" y="341" width="2" height="35" fill="#000"/>
<rect x="2117" y="346" width="10" height="30" fill="#000"/>
<rect x="2119" y="348" width="6" height="26" fill="#fff"/>
<rect x="2135" y="372" width="2" height="86" fill="#000"/>
<rect x="2131" y="380" width="10" height="45" fill="#000"/>
<rect x="2149" y="418" width="2" height="32" fill="#000"/>
<rect x="2145" y="423" width="10" height="15" fill="#000"/>
<rect x="2163" y="319" width="2" height="96" fill="#000"/>
<rect x="2159" y="328" width="10" height="84" fill="#000"/>
<rect x="2161" y="330" width="6" height="80" fill="#fff"/>
<rect x="2177" y="315" width="2" height="43" fill="#000"/>
<rect x="2173" y="327" width="10" height="6" fill="#000"/>
<rect x="2191" y="328" width="2" height="36" fill="#000"/>
<rect x="2187" y="343" width="10" height="20" fill="#000"/>
<rect x="2189" y="345" width="6" height="16" fill="#fff"/>
</g>
<line x1="20" y1="343" x2="2546" y2="343" stroke="#fff" stroke-width="2" stroke-dasharray="2 4" shape-rendering="crispEdges"/>
</g>
<text x="19.5" y="40" font-size="24.5" fill="#dadada" stroke="#dadada" stroke-width="0.35" textLength="803.5" lengthAdjust="spacing" >BeInCrypto1 published on TradingView.com, May 19, 2025 11:07 UTC-3</text>
<text x="36" y="93.8" font-size="24" fill="#131722" stroke="#131722" stroke-width="0.35" textLength="239.5" lengthAdjust="spacing" >Coinbase Global, Inc.</text>
<text x="281.5" y="93.8" font-size="24" fill="#131722" stroke="#131722" stroke-width="0.35" >·</text>
<text x="297" y="93.8" font-size="24" fill="#131722" stroke="#131722" stroke-width="0.35" textLength="29" lengthAdjust="spacing" >4h</text>
<text x="332.5" y="93.8" font-size="24" fill="#131722" stroke="#131722" stroke-width="0.35" >·</text>
<text x="346" y="93.8" font-size="24" fill="#131722" stroke="#131722" stroke-width="0.35" textLength="100" lengthAdjust="spacing" >NASDAQ</text>
<text x="459.5" y="93.8" font-size="24" fill="#131722" stroke="#131722" stroke-width="0.35" textLength="99.5" lengthAdjust="spacing" >O259.99</text>
<text x="571" y="93.8" font-size="24" fill="#131722" stroke="#131722" stroke-width="0.35" textLength="96" lengthAdjust="spacing" >H267.50</text>
<text x="680" y="93.8" font-size="24" fill="#131722" stroke="#131722" stroke-width="0.35" textLength="91" lengthAdjust="spacing" >L259.61</text>
<text x="783.5" y="93.8" font-size="24" fill="#131722" stroke="#131722" stroke-width="0.35" textLength="94.5" lengthAdjust="spacing" >C264.12</text>
<text x="891" y="93.8" font-size="24" fill="#131722" stroke="#131722" stroke-width="0.35" textLength="177.5" lengthAdjust="spacing" >−2.47 (−0.93%)</text>
<text x="1083" y="93.8" font-size="24" fill="#131722" stroke="#131722" stroke-width="0.35" textLength="35" lengthAdjust="spacing" >Vol</text>
<text x="1118" y="93.8" font-size="24" fill="#131722" stroke="#131722" stroke-width="0.35" textLength="79" lengthAdjust="spacing" >369.72</text>
<text x="1201" y="93.8" font-size="24" fill="#131722" stroke="#131722" stroke-width="0.35" >K</text>
<text x="36" y="127.8" font-size="24" fill="#131722" stroke="#131722" stroke-width="0.35" textLength="226.5" lengthAdjust="spacing" >EMA 20/50/100/200</text>
<text x="276" y="127.8" font-size="24" fill="#ff0000" stroke="#ff0000" stroke-width="0.35" textLength="75" lengthAdjust="spacing" >235.51</text>
<text x="365.5" y="127.8" font-size="24" fill="#ff7f00" stroke="#ff7f00" stroke-width="0.35" textLength="75" lengthAdjust="spacing" >214.76</text>
<text x="454" y="127.8" font-size="24" fill="#00ffff" stroke="#00ffff" stroke-width="0.35" textLength="76.5" lengthAdjust="spacing" >210.44</text>
<text x="544.5" y="127.8" font-size="24" fill="#0000ff" stroke="#0000ff" stroke-width="0.35" textLength="76" lengthAdjust="spacing" >218.55</text>
<rect x="2554.5" y="61.5" width="128" height="53" rx="9" ry="9" fill="#fff" stroke="#ececec" stroke-width="1.5"/>
<text x="2571.5" y="96" font-size="24" fill="#131722" stroke="#131722" stroke-width="0.35" textLength="51" lengthAdjust="spacing" >USD</text>
<text x="2564.5" y="198.2" font-size="24" fill="#131722" stroke="#131722" stroke-width="0.35" textLength="82" lengthAdjust="spacing" >300.00</text>
<text x="2564.5" y="281.2" font-size="24" fill="#131722" stroke="#131722" stroke-width="0.35" textLength="82" lengthAdjust="spacing" >280.00</text>
<text x="2564.5" y="466.6" font-size="24" fill="#131722" stroke="#131722" stroke-width="0.35" textLength="82" lengthAdjust="spacing" >240.00</text>
<text x="2564.5" y="571.2" font-size="24" fill="#131722" stroke="#131722" stroke-width="0.35" textLength="82" lengthAdjust="spacing" >220.00</text>
<text x="2564.5" y="656.1" font-size="24" fill="#131722" stroke="#131722" stroke-width="0.35" textLength="82" lengthAdjust="spacing" >205.00</text>
<text x="2564.5" y="728.7" font-size="24" fill="#131722" stroke="#131722" stroke-width="0.35" textLength="82" lengthAdjust="spacing" >193.00</text>
<text x="2564.5" y="805.9" font-size="24" fill="#131722" stroke="#131722" stroke-width="0.35" textLength="82" lengthAdjust="spacing" >181.00</text>
<text x="2564.5" y="888.4" font-size="24" fill="#131722" stroke="#131722" stroke-width="0.35" textLength="82" lengthAdjust="spacing" >169.00</text>
<text x="2564.5" y="961.7" font-size="24" fill="#131722" stroke="#131722" stroke-width="0.35" textLength="82" lengthAdjust="spacing" >159.00</text>
<text x="2564.5" y="1023.8" font-size="24" fill="#131722" stroke="#131722" stroke-width="0.35" textLength="82" lengthAdjust="spacing" >151.00</text>
<text x="2564.5" y="1089.3" font-size="24" fill="#131722" stroke="#131722" stroke-width="0.35" textLength="82" lengthAdjust="spacing" >143.00</text>
<text x="2564.5" y="1149.6" font-size="24" fill="#131722" stroke="#131722" stroke-width="0.35" textLength="82" lengthAdjust="spacing" >136.00</text>
<path d="M2548 162 H2654 Q2658 162 2658 166 V192 Q2658 196 2654 196 H2548 Z" fill="#2962ff"/>
<text x="2564.5" y="186.6" font-size="24" fill="#fff" stroke="#fff" stroke-width="0.35" textLength="82" lengthAdjust="spacing" >302.71</text>
<path d="M2548 292 H2654 Q2658 292 2658 296 V322 Q2658 326 2654 326 H2548 Z" fill="#2962ff"/>
<text x="2564.5" y="316.6" font-size="24" fill="#fff" stroke="#fff" stroke-width="0.35" textLength="82" lengthAdjust="spacing" >265.56</text>
<path d="M2548 476 H2654 Q2658 476 2658 480 V506 Q2658 510 2654 510 H2548 Z" fill="#f23645"/>
<text x="2564.5" y="500.6" font-size="24" fill="#fff" stroke="#fff" stroke-width="0.35" textLength="82" lengthAdjust="spacing" >233.26</text>
<path d="M2548 592 H2654 Q2658 592 2658 596 V622 Q2658 626 2654 626 H2548 Z" fill="#f23645"/>
<text x="2564.5" y="616.6" font-size="24" fill="#fff" stroke="#fff" stroke-width="0.35" textLength="82" lengthAdjust="spacing" >211.76</text>
<rect x="2548" y="327" width="110" height="62" fill="#fff"/>
<text x="2564.5" y="350.8" font-size="24" fill="#000" stroke="#000" stroke-width="0.35" textLength="82" lengthAdjust="spacing" >264.12</text>
<text x="2564.5" y="379.2" font-size="24" fill="#4a4a4a" stroke="#4a4a4a" stroke-width="0.35" textLength="104" lengthAdjust="spacing" >03:22:30</text>
<text x="51.5" y="1214.2" font-size="24" fill="#131722" stroke="#131722" stroke-width="0.35" text-anchor="middle" letter-spacing="1">28</text>
<text x="163.5" y="1214.2" font-size="24" fill="#131722" stroke="#131722" stroke-width="0.35" font-weight="bold" text-anchor="middle" letter-spacing="1">Feb</text>
<text x="274.5" y="1214.2" font-size="24" fill="#131722" stroke="#131722" stroke-width="0.35" text-anchor="middle" letter-spacing="1">7</text>
<text x="385.5" y="1214.2" font-size="24" fill="#131722" stroke="#131722" stroke-width="0.35" text-anchor="middle" letter-spacing="1">13</text>
<text x="496.5" y="1214.2" font-size="24" fill="#131722" stroke="#131722" stroke-width="0.35" text-anchor="middle" letter-spacing="1">20</text>
<text x="691.5" y="1214.2" font-size="24" fill="#131722" stroke="#131722" stroke-width="0.35" font-weight="bold" text-anchor="middle" letter-spacing="1">Mar</text>
<text x="802.5" y="1214.2" font-size="24" fill="#131722" stroke="#131722" stroke-width="0.35" text-anchor="middle" letter-spacing="1">7</text>
<text x="913.5" y="1214.2" font-size="24" fill="#131722" stroke="#131722" stroke-width="0.35" text-anchor="middle" letter-spacing="1">13</text>
<text x="1024.5" y="1214.2" font-size="24" fill="#131722" stroke="#131722" stroke-width="0.35" text-anchor="middle" letter-spacing="1">19</text>
<text x="1135.5" y="1214.2" font-size="24" fill="#131722" stroke="#131722" stroke-width="0.35" text-anchor="middle" letter-spacing="1">25</text>
<text x="1274.5" y="1214.2" font-size="24" fill="#131722" stroke="#131722" stroke-width="0.35" font-weight="bold" text-anchor="middle" letter-spacing="1">Apr</text>
<text x="1386.5" y="1214.2" font-size="24" fill="#131722" stroke="#131722" stroke-width="0.35" text-anchor="middle" letter-spacing="1">7</text>
<text x="1497.5" y="1214.2" font-size="24" fill="#131722" stroke="#131722" stroke-width="0.35" text-anchor="middle" letter-spacing="1">11</text>
<text x="1608.5" y="1214.2" font-size="24" fill="#131722" stroke="#131722" stroke-width="0.35" text-anchor="middle" letter-spacing="1">17</text>
<text x="1719.5" y="1214.2" font-size="24" fill="#131722" stroke="#131722" stroke-width="0.35" text-anchor="middle" letter-spacing="1">24</text>
<text x="1858.5" y="1214.2" font-size="24" fill="#131722" stroke="#131722" stroke-width="0.35" font-weight="bold" text-anchor="middle" letter-spacing="1">May</text>
<text x="1969.5" y="1214.2" font-size="24" fill="#131722" stroke="#131722" stroke-width="0.35" text-anchor="middle" letter-spacing="1">7</text>
<text x="2080.5" y="1214.2" font-size="24" fill="#131722" stroke="#131722" stroke-width="0.35" text-anchor="middle" letter-spacing="1">13</text>
<text x="2192.5" y="1214.2" font-size="24" fill="#131722" stroke="#131722" stroke-width="0.35" text-anchor="middle" letter-spacing="1">19</text>
<text x="2303.5" y="1214.2" font-size="24" fill="#131722" stroke="#131722" stroke-width="0.35" text-anchor="middle" letter-spacing="1">23</text>
<text x="2442.5" y="1214.2" font-size="24" fill="#131722" stroke="#131722" stroke-width="0.35" font-weight="bold" text-anchor="middle" letter-spacing="1">Jun</text>
<g>
<path d="M385 1127.5 L406 1139 V1172.5 H364 V1139 Z" fill="#fff"/>
<path d="M367.5 1143.5 Q367.5 1141 370 1139.6 L383 1131.8 Q385 1130.6 387 1131.8 L400 1139.6 Q402.5 1141 402.5 1143.5 V1164.5 Q402.5 1168.5 398.5 1168.5 H371.5 Q367.5 1168.5 367.5 1164.5 Z" fill="#fff" stroke="#089981" stroke-width="3" stroke-linejoin="round"/>
<text transform="translate(385.3,1159) scale(0.88,1)" font-size="23.5" font-weight="bold" text-anchor="middle" fill="#089981">E</text>
</g>
<g>
<path d="M1976 1130.5 H2018 V1164 L1997 1176 L1976 1164 Z" fill="#fff"/>
<path d="M1979.5 1159.6 Q1979.5 1162.1 1982 1163.5 L1995 1171.3 Q1997 1172.5 1999 1171.3 L2012 1163.5 Q2014.5 1162.1 2014.5 1159.6 V1138.5 Q2014.5 1134.5 2010.5 1134.5 H1983.5 Q1979.5 1134.5 1979.5 1138.5 Z" fill="#fff" stroke="#f23645" stroke-width="3" stroke-linejoin="round"/>
<text transform="translate(1997.3,1159) scale(0.88,1)" font-size="23.5" font-weight="bold" text-anchor="middle" fill="#f23645">E</text>
</g>
<path d="M20 1256 H35.6 V1275.5 H27.6 V1264 H20 Z" fill="#d9d9d9"/>
<circle cx="42.3" cy="1260.5" r="4.4" fill="#d9d9d9"/>
<path d="M49.4 1256 H59.4 L52.3 1275.5 H42.3 Z" fill="#d9d9d9"/>
<text x="67" y="1276.7" font-size="26" fill="#d9d9d9" stroke="#d9d9d9" stroke-width="0.35" textLength="148" lengthAdjust="spacing" >TradingView</text>
</svg>
</body></html>
